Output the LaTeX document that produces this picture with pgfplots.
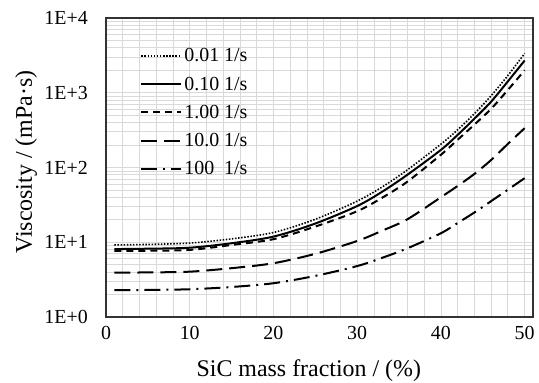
\documentclass[border=0pt]{standalone}
\usepackage{fontspec}
\setmainfont{Liberation Serif}
\usepackage{pgfplots}
\pgfplotsset{compat=1.18}
\begin{document}
\begin{tikzpicture}
\begin{axis}[
 scale only axis, width=427bp, height=299bp,
 xmin=0, xmax=51, ymode=log, ymin=1, ymax=10000,
 xtick={0,10,20,30,40,50}, minor x tick num=4,
 ytick={1,10,100,1000,10000}, yticklabels={1E+0,1E+1,1E+2,1E+3,1E+4},
 minor ytick={2,3,4,5,6,7,8,9,20,30,40,50,60,70,80,90,200,300,400,500,600,700,800,900,2000,3000,4000,5000,6000,7000,8000,9000},
 grid=both,
 major grid style={black!15, line width=0.8bp},
 minor grid style={black!15, line width=0.8bp},
 major tick length=0pt, minor tick length=0pt,
 axis line style={black!80, line width=1.6bp},
 tick label style={font=\fontsize{20}{23}\selectfont},
 /pgf/number format/assume math mode=true,
 xticklabel style={inner sep=0pt, yshift=-9bp},
 yticklabel style={inner sep=0pt, xshift=-18bp},
 xlabel={SiC mass fraction / (\%)}, ylabel={Viscosity / (mPa·s)},
 label style={font=\fontsize{24}{27}\selectfont},
 xlabel style={at={(axis description cs:0.475,-0.18)}, anchor=center},
 ylabel style={at={(axis description cs:-0.187,0.518)}, anchor=center},
 legend style={at={(axis description cs:0.08,0.905)}, anchor=north west, draw=none, fill=none, font=\fontsize{20}{23}\selectfont, row sep=9.5bp, inner sep=0pt},
 legend cell align=left,
 legend image code/.code={\draw[#1] (0bp,0bp) -- (40bp,0bp);},
 every axis plot/.append style={black, line width=2bp, smooth},
]
\addplot[dash pattern=on 1.5bp off 1.6bp, line width=1.6bp] coordinates {(1,9.2)(5,9.35)(10,9.75)(15,11.1)(20,13.5)(25,20.3)(30,35.5)(33,55)(36,93)(40,205)(42,320)(44,525)(46,912)(48,1700)(50,3350)};
\addlegendentry{0.01 1/s}
\addplot[solid] coordinates {(1,8.1)(5,8.2)(10,8.45)(15,9.7)(20,11.9)(25,17.8)(30,30.5)(33,47.5)(36,80)(40,172)(42,273)(44,450)(46,760)(48,1420)(50,2700)};
\addlegendentry{0.10 1/s}
\addplot[dash pattern=on 7bp off 5bp] coordinates {(1,7.65)(5,7.7)(10,7.9)(15,9.2)(20,11)(25,16.2)(30,26)(33,39.5)(36,64.7)(40,148)(42,235)(44,375)(46,610)(48,1090)(50,2000)};
\addlegendentry{1.00 1/s}
\addplot[dash pattern=on 16bp off 7bp] coordinates {(1,3.92)(5,3.95)(10,4.04)(15,4.5)(20,5.24)(25,7.0)(30,10.4)(33,14.3)(36,20.3)(40,40)(42,56.7)(44,82)(46,126)(48,207)(50,336)};
\addlegendentry{10.0 1/s}
\addplot[dash pattern=on 16bp off 6bp on 2bp off 6bp] coordinates {(1,2.28)(5,2.3)(10,2.35)(15,2.52)(20,2.83)(25,3.55)(30,4.8)(33,6.2)(36,8.3)(40,13.2)(42,18.1)(44,25)(46,35.5)(48,50.5)(50,72)};
\addlegendentry{100\hphantom{.} 1/s}
\end{axis}
\pgfresetboundingbox
\path (-106bp,-66bp) rectangle (433bp,317bp);
\end{tikzpicture}
\end{document}
